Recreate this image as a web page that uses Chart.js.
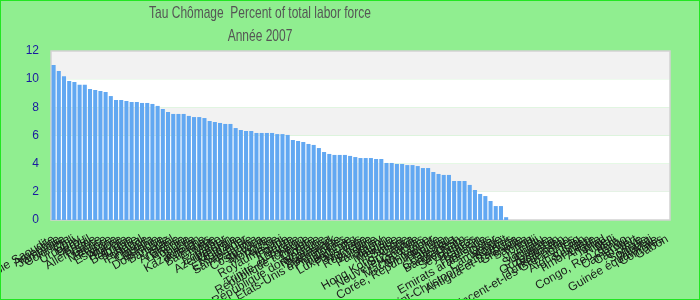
<!DOCTYPE html>
<html>
<head>
<meta charset="utf-8">
<script src="https://cdn.jsdelivr.net/npm/chart.js@4"></script>
<style>
  body { margin: 0; }
  #cadre { width: 700px; height: 300px; box-sizing: border-box; border: 1px solid #22e622; background: #90ee90; }
</style>
</head>
<body>
<div id="cadre"><canvas id="myChart"></canvas></div>
<script>
const titres = ["Tau Chômage  Percent of total labor force", "Année 2007"];

const pays = [
  "Arabie Saoudite", "Argentine", "Jamaïque", "Colombie", "Chili", "Uruguay", "Pérou", "Brésil",
  "Allemagne", "Grèce", "Maurice", "France", "Espagne", "Algérie", "Egypte", "Belgique",
  "Italie", "Portugal", "Finlande", "Canada", "Estonie", "Dominique", "Barbade", "Israël",
  "Arménie", "Lettonie", "Hongrie", "Suède", "Kazakhstan", "Autriche", "Bahamas", "Croatie",
  "Malte", "Equateur", "Azerbaïdjan", "Géorgie", "Moldavie", "El Salvador", "Sainte-Lucie", "Panama",
  "Costa Rica", "Slovénie", "Mongolie", "Russie", "Royaume-Uni", "Irlande", "Belize", "Australie",
  "Trinité-et-Tobago", "République tchèque", "Chypre", "Ukraine", "République dominicaine", "Nicaragua", "Danemark", "Etats-Unis d'Amérique",
  "Philippines", "Indonésie", "Luxembourg", "Pays-Bas", "Norvège", "Roumanie", "Bulgarie", "Paraguay",
  "Japon", "Malaisie", "Mexique", "Suisse", "Hong Kong, Chine", "Sri Lanka", "Nouvelle-Zélande", "Honduras",
  "Macao, Chine", "Singapour", "Corée, République de", "Bolivie", "Pakistan", "Guatemala", "Bangladesh", "Viet Nam",
  "Seychelles", "Bélarus", "Bahreïn", "Thaïlande", "Emirats arabes unis", "Qatar", "Cambodge", "Koweït",
  "Saint-Christophe-et-Niévès", "Antigua-et-Barbuda", "Grenade", "Samoa", "Tonga", "Fidji", "Vanuatu", "Suriname",
  "Guyana", "Ouzbékistan", "Tadjikistan", "Turkménistan", "Saint-Vincent-et-les Grenadines", "Iraq", "Afghanistan", "Soudan",
  "Timor-Leste", "Angola", "Tchad", "Niger", "Mali", "Congo, Rép. dém.", "Congo", "Cameroun",
  "Cap-Vert", "Libye", "Somalie", "Djibouti", "Guinée équatoriale", "Comores", "Gabon"
];

// taux de chômage 2007 (null = pas de donnée)
const chomage = [
  11.0, 10.58, 10.2, 9.87, 9.8, 9.6, 9.6, 9.3, 9.23, 9.16, 9.09, 8.8, 8.52, 8.52, 8.45, 8.38,
  8.38, 8.31, 8.31, 8.24, 8.1, 7.88, 7.67, 7.53, 7.53, 7.53, 7.39, 7.31, 7.31, 7.24, 7.03, 6.96,
  6.89, 6.82, 6.82, 6.53, 6.39, 6.32, 6.32, 6.18, 6.18, 6.18, 6.18, 6.1, 6.1, 6.04, 5.68, 5.61,
  5.54, 5.4, 5.33, 5.11, 4.83, 4.69, 4.62, 4.62, 4.62, 4.55, 4.47, 4.4, 4.4, 4.4, 4.33, 4.33,
  4.05, 4.05, 3.98, 3.98, 3.9, 3.9, 3.83, 3.69, 3.69, 3.41, 3.27, 3.2, 3.2, 2.77, 2.77, 2.77,
  2.49, 2.13, 1.85, 1.7, 1.35, 0.99, 0.99, 0.2,
  null, null, null, null, null, null, null, null, null, null, null, null, null, null, null, null,
  null, null, null, null, null, null, null, null, null, null, null, null, null, null, null
];

const yTicks = [0, 2, 4, 6, 8, 10, 12];

// bandes grises / blanches + cadre de la zone de tracé
const bandes = {
  id: 'bandes',
  beforeDatasetsDraw(chart) {
    const { ctx, chartArea: a, scales: { y } } = chart;
    ctx.save();
    for (let i = 0; i < yTicks.length - 1; i++) {
      const haut = y.getPixelForValue(yTicks[i + 1]);
      const bas = y.getPixelForValue(yTicks[i]);
      ctx.fillStyle = i % 2 ? '#f2f2f2' : '#ffffff';
      ctx.fillRect(a.left, haut, a.right - a.left, bas - haut);
    }
    ctx.strokeStyle = '#d2d2d2';
    ctx.lineWidth = 1.5;
    ctx.strokeRect(a.left, a.top, a.right - a.left, a.bottom - a.top);
    ctx.restore();
  }
};

// titre étroit (texte compressé horizontalement), centré vers x=259
const titre = {
  id: 'titre',
  afterDraw(chart) {
    const ctx = chart.ctx;
    ctx.save();
    ctx.font = "17px 'Liberation Sans'";
    ctx.fillStyle = '#555555';
    ctx.textAlign = 'center';
    ctx.textBaseline = 'middle';
    titres.forEach((t, i) => {
      ctx.save();
      ctx.translate(259, 12 + i * 23);
      ctx.scale(0.705, 1);
      ctx.fillText(t, 0, 0);
      ctx.restore();
    });
    ctx.restore();
  }
};

new Chart(document.getElementById("myChart"), {
  type: 'bar',
  data: {
    labels: pays,
    datasets: [{
      data: chomage,
      backgroundColor: '#62a8f2',
      barPercentage: 0.78,
      categoryPercentage: 1.0
    }]
  },
  options: {
    responsive: true,
    maintainAspectRatio: false,
    animation: false,
    layout: { padding: { left: 0, right: 29, top: 50, bottom: 0 } },
    plugins: {
      legend: { display: false },
      tooltip: { enabled: false },
      title: { display: false }
    },
    scales: {
      x: {
        grid: { display: false },
        border: { display: false },
        ticks: {
          autoSkip: false,
          minRotation: 30,
          maxRotation: 30,
          color: '#1a1a1a',
          padding: 4,
          font: { family: 'Liberation Sans', size: 12 }
        },
        afterFit(s) { s.height = 79; s.paddingLeft = 0; s.paddingRight = 0; }
      },
      y: {
        min: 0,
        max: 12,
        grid: { display: false, drawTicks: false },
        border: { display: false },
        afterBuildTicks(s) { s.ticks = yTicks.map(v => ({ value: v })); },
        ticks: {
          color: '#1a1aa0',
          padding: 12,
          font: { family: 'Liberation Sans', size: 12 }
        },
        afterFit(s) { s.width = 50; }
      }
    }
  },
  plugins: [bandes, titre]
});
</script>
</body>
</html>
